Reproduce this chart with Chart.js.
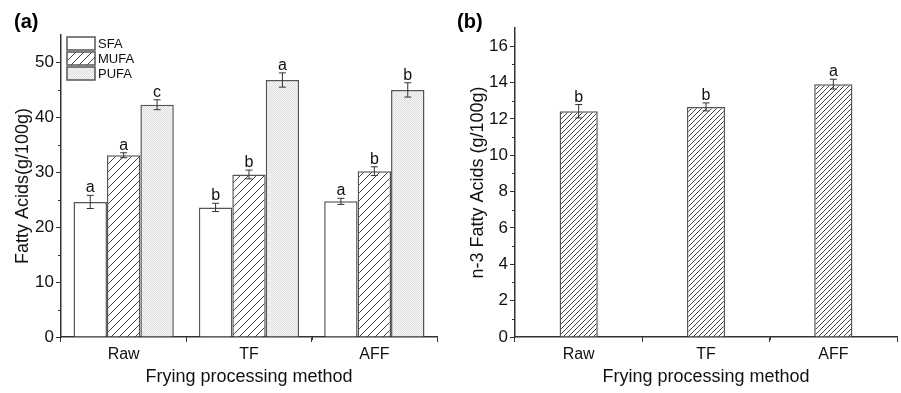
<!DOCTYPE html>
<html>
<head>
<meta charset="utf-8">
<script src="https://cdn.jsdelivr.net/npm/chart.js@4.4.1/dist/chart.umd.min.js"></script>
<style>
  html, body { margin: 0; padding: 0; background: #fff; }
  #wrap { position: relative; width: 901px; height: 393px; }
  .box { position: absolute; top: 0; height: 393px; }
</style>
</head>
<body>
<div id="wrap">
  <div class="box" style="left:0;width:450px"><canvas id="chartA"></canvas></div>
  <div class="box" style="left:450px;width:451px"><canvas id="chartB"></canvas></div>
</div>
<script>
// data
var categories = ["Raw", "TF", "AFF"];

var sfa = [24.6, 23.6, 24.7];
var sfaErr = [1.2, 0.75, 0.55];
var sfaLetters = ["a", "b", "a"];

var mufa = [33.1, 29.6, 30.2];
var mufaErr = [0.45, 0.8, 0.8];
var mufaLetters = ["a", "b", "b"];

var pufa = [42.3, 46.8, 45.0];
var pufaErr = [0.9, 1.3, 1.3];
var pufaLetters = ["c", "a", "b"];

var n3 = [12.42, 12.66, 13.91];
var n3Err = [0.37, 0.22, 0.27];
var n3Letters = ["b", "b", "a"];

var FONT = "'Liberation Sans', Arial, sans-serif";
var INK = '#333';

// fill patterns
function hatch(step, color) {
    var c = document.createElement('canvas');
    c.width = step; c.height = step;
    var g = c.getContext('2d');
    g.fillStyle = '#fff';
    g.fillRect(0, 0, step, step);
    g.strokeStyle = color;
    g.lineWidth = 1;
    g.beginPath();
    g.moveTo(-1, step + 1); g.lineTo(step + 1, -1);
    g.moveTo(-1, 1); g.lineTo(1, -1);
    g.moveTo(step - 1, step + 1); g.lineTo(step + 1, step - 1);
    g.stroke();
    return g.createPattern(c, 'repeat');
}
function stipple() {
    var c = document.createElement('canvas');
    c.width = 2; c.height = 2;
    var g = c.getContext('2d');
    g.fillStyle = '#f5f5f5'; g.fillRect(0, 0, 2, 2);
    g.fillStyle = '#e0e0e0'; g.fillRect(0, 0, 1, 1); g.fillRect(1, 1, 1, 1);
    return g.createPattern(c, 'repeat');
}

var hatchA = hatch(8, '#444');
var hatchB = hatch(5, '#444');
var dots = stipple();

// error bars, letters, minor ticks, panel label, legend
var extras = {
    id: 'extras',
    afterDatasetsDraw: function(chart, args, opts) {
        var ctx = chart.ctx;
        var x = chart.scales.x, y = chart.scales.y;
        ctx.save();
        chart.data.datasets.forEach(function(ds, di) {
            var meta = chart.getDatasetMeta(di);
            meta.data.forEach(function(bar, i) {
                var v = ds.data[i], e = ds.errors[i];
                var yt = y.getPixelForValue(v + e), yb = y.getPixelForValue(v - e);
                ctx.strokeStyle = INK;
                ctx.lineWidth = 1;
                ctx.beginPath();
                ctx.moveTo(bar.x, yt); ctx.lineTo(bar.x, yb);
                ctx.moveTo(bar.x - 3.5, yt); ctx.lineTo(bar.x + 3.5, yt);
                ctx.moveTo(bar.x - 3.5, yb); ctx.lineTo(bar.x + 3.5, yb);
                ctx.stroke();
                ctx.fillStyle = '#111';
                ctx.font = '16px ' + FONT;
                ctx.textAlign = 'center';
                ctx.textBaseline = 'alphabetic';
                ctx.fillText(ds.letters[i], bar.x, yt - 3);
            });
        });

        // minor ticks
        ctx.strokeStyle = INK;
        ctx.lineWidth = 1;
        ctx.beginPath();
        for (var m = opts.minorStep; m < y.max; m += opts.minorStep * 2) {
            var py = Math.round(y.getPixelForValue(m)) + 0.5;
            ctx.moveTo(x.left - 3, py); ctx.lineTo(x.left, py);
        }
        for (var k = 0; k < categories.length - 1; k++) {
            var px = Math.round(x.getPixelForValue(k + 0.5)) + 0.5;
            ctx.moveTo(px, y.bottom); ctx.lineTo(px, y.bottom + 3);
        }
        ctx.stroke();

        // panel label
        ctx.fillStyle = '#000';
        ctx.font = 'bold 20px ' + FONT;
        ctx.textAlign = 'left';
        ctx.textBaseline = 'alphabetic';
        ctx.fillText(opts.panel, opts.panelX, 28);

        // legend
        if (opts.legend) {
            var lx = 67, ly = 37, bw = 28, bh = 13;
            chart.data.datasets.forEach(function(ds, di) {
                var top = ly + di * 15;
                ctx.fillStyle = ds.backgroundColor;
                ctx.fillRect(lx, top, bw, bh);
                ctx.strokeStyle = '#555';
                ctx.lineWidth = 1.5;
                ctx.strokeRect(lx, top, bw, bh);
                ctx.fillStyle = '#111';
                ctx.font = '13px ' + FONT;
                ctx.textBaseline = 'middle';
                ctx.fillText(ds.label, lx + bw + 3, top + bh / 2 + 1);
            });
        }
        ctx.restore();
    }
};

function axes(yMax, yStep, yWidth, yTitle, yTitlePad) {
    return {
        x: {
            grid: { display: true, drawOnChartArea: false, drawTicks: true, tickLength: 5, color: INK, lineWidth: 1 },
            border: { display: true, color: INK, width: 1.5 },
            ticks: { color: '#111', font: { family: FONT, size: 16 }, padding: 3 },
            title: { display: true, text: 'Frying processing method', color: '#111',
                     font: { family: FONT, size: 18 }, padding: { top: 0, bottom: 5 } },
            afterFit: function(s) { s.height = 56; }
        },
        y: {
            min: 0, max: yMax,
            grid: { display: true, drawOnChartArea: false, drawTicks: true, tickLength: 5, color: INK, lineWidth: 1 },
            border: { display: true, color: INK, width: 1.5 },
            ticks: { stepSize: yStep, includeBounds: false, color: '#111', font: { family: FONT, size: 17 }, padding: 2 },
            title: { display: true, text: yTitle, color: '#111',
                     font: { family: FONT, size: 18 }, padding: { top: yTitlePad, bottom: 0 } },
            afterFit: function(s) { s.width = yWidth; }
        }
    };
}

new Chart(document.getElementById('chartA'), {
    type: 'bar',
    data: {
        labels: categories,
        datasets: [
            { label: 'SFA', data: sfa, errors: sfaErr, letters: sfaLetters,
              backgroundColor: '#fff', borderColor: '#555', borderWidth: 1.5 },
            { label: 'MUFA', data: mufa, errors: mufaErr, letters: mufaLetters,
              backgroundColor: hatchA, borderColor: '#555', borderWidth: 1.5 },
            { label: 'PUFA', data: pufa, errors: pufaErr, letters: pufaLetters,
              backgroundColor: dots, borderColor: '#555', borderWidth: 1.5 }
        ]
    },
    options: {
        responsive: true,
        maintainAspectRatio: false,
        animation: false,
        layout: { padding: { left: 0, right: 13, top: 35, bottom: 0 } },
        datasets: { bar: { categoryPercentage: 0.8, barPercentage: 1.0 } },
        scales: axes(55, 10, 61, 'Fatty Acids(g/100g)', 12),
        plugins: {
            legend: { display: false },
            tooltip: { enabled: false },
            extras: { minorStep: 5, panel: '(a)', panelX: 14, legend: true }
        }
    },
    plugins: [extras]
});

new Chart(document.getElementById('chartB'), {
    type: 'bar',
    data: {
        labels: categories,
        datasets: [
            { label: 'n-3', data: n3, errors: n3Err, letters: n3Letters,
              backgroundColor: hatchB, borderColor: '#555', borderWidth: 1.5 }
        ]
    },
    options: {
        responsive: true,
        maintainAspectRatio: false,
        animation: false,
        layout: { padding: { left: 0, right: 4, top: 28, bottom: 0 } },
        datasets: { bar: { categoryPercentage: 0.3, barPercentage: 1.0 } },
        scales: axes(17, 2, 65, 'n-3 Fatty Acids (g/100g)', 17),
        plugins: {
            legend: { display: false },
            tooltip: { enabled: false },
            extras: { minorStep: 1, panel: '(b)', panelX: 7, legend: false }
        }
    },
    plugins: [extras]
});
</script>
</body>
</html>
